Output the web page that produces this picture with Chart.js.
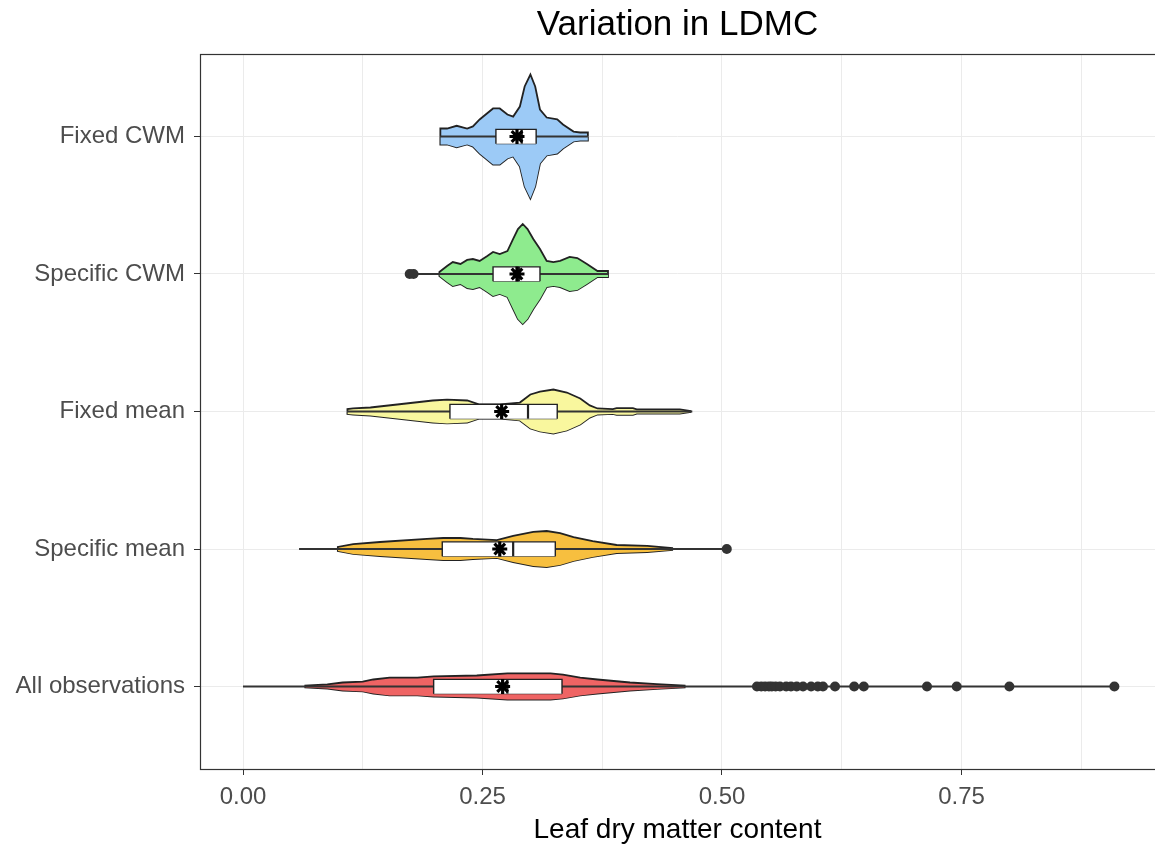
<!DOCTYPE html>
<html>
<head>
<meta charset="utf-8">
<title>Variation in LDMC</title>
<script src="https://cdn.jsdelivr.net/npm/chart.js@4.4.1/dist/chart.umd.min.js"></script>
<style>
  body { margin: 0; background: #fff; }
  #wrap { width: 1155px; height: 849px; overflow: hidden; }
</style>
</head>
<body>
<div id="wrap"><canvas id="chart" width="1155" height="849"></canvas></div>
<script>
// groups, bottom to top (y position 1..5)
const categories = ['All observations', 'Specific mean', 'Fixed mean', 'Specific CWM', 'Fixed CWM'];
const fillColors = ['#ef6464', '#f7bf3f', '#f9f79e', '#8eeb8e', '#9ccaf6'];

// violin outlines: x = LDMC, w = half width (in category units)
const allObsX = [0.065, 0.088, 0.104, 0.125, 0.136, 0.153, 0.182, 0.199, 0.244, 0.276, 0.321, 0.334, 0.352, 0.370, 0.404, 0.432, 0.461];
const allObsW = [0.007, 0.015, 0.029, 0.036, 0.051, 0.065, 0.065, 0.073, 0.080, 0.095, 0.095, 0.087, 0.065, 0.051, 0.029, 0.018, 0.007];
const specMeanX = [0.099, 0.115, 0.143, 0.192, 0.209, 0.227, 0.240, 0.265, 0.282, 0.303, 0.317, 0.331, 0.345, 0.365, 0.390, 0.422, 0.448];
const specMeanW = [0.015, 0.036, 0.051, 0.073, 0.080, 0.080, 0.073, 0.065, 0.095, 0.124, 0.131, 0.116, 0.087, 0.058, 0.029, 0.022, 0.007];
const fixMeanX = [0.109, 0.115, 0.133, 0.161, 0.198, 0.213, 0.234, 0.247, 0.268, 0.289, 0.300, 0.310, 0.324, 0.338, 0.352, 0.362, 0.370, 0.386, 0.390, 0.407, 0.411, 0.456, 0.467];
const fixMeanW = [0.018, 0.022, 0.029, 0.051, 0.080, 0.087, 0.080, 0.051, 0.051, 0.065, 0.124, 0.145, 0.160, 0.138, 0.095, 0.044, 0.022, 0.018, 0.024, 0.024, 0.015, 0.015, 0.004];
const specCwmX = [0.205, 0.213, 0.219, 0.227, 0.234, 0.240, 0.247, 0.255, 0.261, 0.268, 0.276, 0.282, 0.287, 0.292, 0.297, 0.303, 0.310, 0.317, 0.324, 0.331, 0.341, 0.349, 0.359, 0.370, 0.381];
const specCwmW = [0.015, 0.058, 0.087, 0.073, 0.102, 0.109, 0.095, 0.131, 0.160, 0.145, 0.167, 0.255, 0.327, 0.364, 0.327, 0.255, 0.182, 0.095, 0.087, 0.095, 0.124, 0.116, 0.073, 0.022, 0.022];
const fixCwmX = [0.206, 0.213, 0.223, 0.234, 0.240, 0.247, 0.261, 0.268, 0.276, 0.282, 0.289, 0.294, 0.300, 0.305, 0.310, 0.317, 0.328, 0.334, 0.345, 0.352, 0.360];
const fixCwmW = [0.058, 0.058, 0.078, 0.058, 0.073, 0.124, 0.204, 0.204, 0.160, 0.145, 0.218, 0.364, 0.451, 0.364, 0.196, 0.138, 0.124, 0.087, 0.036, 0.029, 0.029];

const violinX = [allObsX, specMeanX, fixMeanX, specCwmX, fixCwmX];
const violinW = [allObsW, specMeanW, fixMeanW, specCwmW, fixCwmW];

// box summaries
const q1 = [0.199, 0.208, 0.216, 0.261, 0.264];
const medians = [0.276, 0.282, 0.2975, 0.288, 0.291];
const q3 = [0.333, 0.326, 0.328, 0.310, 0.306];
const means = [0.271, 0.268, 0.270, 0.286, 0.286];
const mins = [0.0, 0.0585, 0.1086, 0.174, 0.2056];
const maxs = [0.9096, 0.505, 0.469, 0.381, 0.360];

// outliers, per group
const outliers = [
  [0.5365, 0.541, 0.545, 0.549, 0.552, 0.556, 0.5605, 0.567, 0.572, 0.578, 0.5846, 0.593, 0.600, 0.6054, 0.618, 0.638, 0.648, 0.714, 0.745, 0.800, 0.9096],
  [0.505],
  [],
  [0.174, 0.178],
  []
];

const xTicks = [0, 0.125, 0.25, 0.375, 0.5, 0.625, 0.75, 0.875];
const boxHalf = 0.052;
const isMajor = (v) => Math.abs(v / 0.25 - Math.round(v / 0.25)) < 1e-6;

const datasets = [];

// stars (means) - on top
datasets.push({
  data: means.map((m, i) => ({ x: m, y: i + 1 })),
  showLine: false,
  pointStyle: 'star',
  pointRadius: 7.5,
  pointBorderColor: '#000',
  pointBorderWidth: 3.2,
  order: 0
});

// outlier points
const outPts = [];
outliers.forEach((arr, i) => arr.forEach(v => outPts.push({ x: v, y: i + 1 })));
datasets.push({
  data: outPts,
  showLine: false,
  pointRadius: 5,
  pointBackgroundColor: '#333333',
  pointBorderWidth: 0,
  order: 1
});

categories.forEach((cat, i) => {
  const c = i + 1;
  // median line
  datasets.push({
    data: [{ x: medians[i], y: c - boxHalf }, { x: medians[i], y: c + boxHalf }],
    borderColor: '#222', borderWidth: 2.2, pointRadius: 0, order: 2
  });
  // box: upper edge (with sides) filled to bottom edge
  datasets.push({
    data: [{ x: q1[i], y: c - boxHalf }, { x: q1[i], y: c + boxHalf }, { x: q3[i], y: c + boxHalf }, { x: q3[i], y: c - boxHalf }],
    borderColor: '#222', borderWidth: 1.4, pointRadius: 0, fill: '+1', backgroundColor: '#ffffff', order: 3
  });
  datasets.push({
    data: [{ x: q1[i], y: c - boxHalf }, { x: q3[i], y: c - boxHalf }],
    borderColor: '#222', borderWidth: 1.4, pointRadius: 0, order: 3
  });
  // min..max line
  datasets.push({
    data: [{ x: mins[i], y: c }, { x: maxs[i], y: c }],
    borderColor: '#333333', borderWidth: 1.8, pointRadius: 0, order: 4
  });
  // violin: top outline filled down to bottom outline
  const xs = violinX[i], ws = violinW[i];
  const n = xs.length;
  const upper = [{ x: xs[0], y: c }].concat(xs.map((x, k) => ({ x: x, y: c + ws[k] })), [{ x: xs[n - 1], y: c }]);
  const lower = [{ x: xs[0], y: c }].concat(xs.map((x, k) => ({ x: x, y: c - ws[k] })), [{ x: xs[n - 1], y: c }]);
  datasets.push({
    data: upper, borderColor: '#222222', borderWidth: 1.8, pointRadius: 0,
    fill: '+1', backgroundColor: fillColors[i], order: 5
  });
  datasets.push({
    data: lower, borderColor: '#222222', borderWidth: 1.8, pointRadius: 0, order: 5
  });
});

// panel border (ggplot theme_bw)
const panelBorder = {
  id: 'panelBorder',
  afterDatasetsDraw(chart) {
    const { ctx, chartArea } = chart;
    ctx.save();
    ctx.strokeStyle = '#333333';
    ctx.lineWidth = 1.2;
    ctx.strokeRect(chartArea.left + 0.5, chartArea.top + 0.5, chartArea.right - chartArea.left + 2, chartArea.bottom - chartArea.top);
    ctx.restore();
  }
};

const fontFamily = '"Liberation Sans", Arial, sans-serif';

new Chart(document.getElementById('chart').getContext('2d'), {
  type: 'line',
  data: { datasets: datasets },
  plugins: [panelBorder],
  options: {
    responsive: false,
    animation: false,
    events: [],
    layout: { padding: 0, autoPadding: false },
    elements: { line: { tension: 0 } },
    plugins: {
      legend: { display: false },
      tooltip: { enabled: false },
      title: {
        display: true,
        fullSize: false,
        text: 'Variation in LDMC',
        color: '#000',
        font: { family: fontFamily, size: 35, weight: 'normal' },
        padding: { top: 4, bottom: 8 }
      }
    },
    scales: {
      x: {
        type: 'linear',
        min: -0.0449,
        max: 0.952,
        afterBuildTicks: (axis) => { axis.ticks = xTicks.map(v => ({ value: v })); },
        afterFit: (axis) => { axis.height = 80; axis.paddingLeft = 0; axis.paddingRight = 0; },
        ticks: {
          color: '#4d4d4d',
          font: { family: fontFamily, size: 24 },
          padding: 8,
          maxRotation: 0,
          autoSkip: false,
          callback: (v) => isMajor(v) ? v.toFixed(2) : ''
        },
        grid: {
          color: '#ebebeb',
          lineWidth: 1,
          tickLength: 6,
          tickColor: (c) => (c.tick && isMajor(c.tick.value)) ? '#333333' : 'rgba(0,0,0,0)'
        },
        border: { display: false },
        title: {
          display: true,
          text: 'Leaf dry matter content',
          color: '#000',
          font: { family: fontFamily, size: 28 },
          padding: { top: 0, bottom: 2 }
        }
      },
      y: {
        type: 'linear',
        min: 0.4,
        max: 5.6,
        afterBuildTicks: (axis) => { axis.ticks = categories.map((c, i) => ({ value: i + 1 })); },
        afterFit: (axis) => { axis.width = 200; },
        ticks: {
          color: '#4d4d4d',
          font: { family: fontFamily, size: 24 },
          padding: 9,
          autoSkip: false,
          callback: (v) => categories[Math.round(v) - 1] || ''
        },
        grid: {
          color: '#ebebeb',
          lineWidth: 1,
          tickLength: 6,
          tickColor: '#333333'
        },
        border: { display: false }
      }
    }
  }
});
</script>
</body>
</html>
